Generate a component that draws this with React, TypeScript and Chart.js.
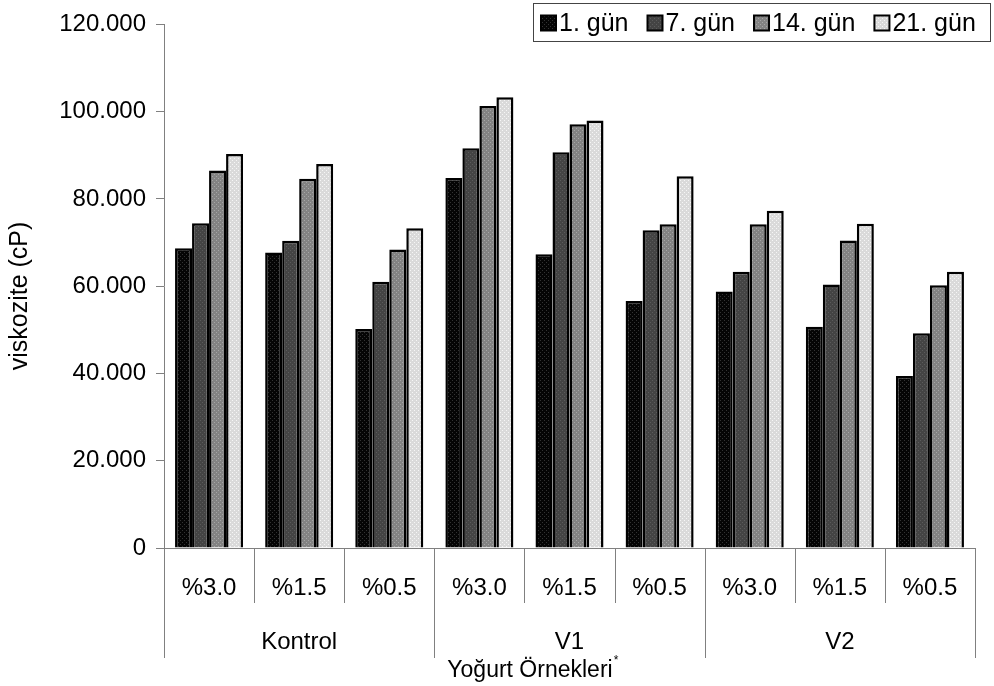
import React, { useEffect, useRef } from "react";
import { Chart, registerables } from "chart.js";

Chart.register(...registerables);

const categories = ["%3.0", "%1.5", "%0.5", "%3.0", "%1.5", "%0.5", "%3.0", "%1.5", "%0.5"];
const groups = ["Kontrol", "V1", "V2"];
const seriesLabels = ["1. gün", "7. gün", "14. gün", "21. gün"];
const gun1 = [68700, 67700, 50200, 84800, 67300, 56600, 58800, 50700, 39400];
const gun7 = [74400, 70400, 61000, 91600, 90700, 72800, 63300, 60400, 49200];
const gun14 = [86500, 84600, 68400, 101300, 97100, 74200, 74200, 70500, 60200];
const gun21 = [90300, 88000, 73300, 103300, 98000, 85200, 77300, 74300, 63300];
const yTickValues = [0, 20000, 40000, 60000, 80000, 100000, 120000];
const yTickLabels = ["0", "20.000", "40.000", "60.000", "80.000", "100.000", "120.000"];
const yTitle = "viskozite (cP)";
const xTitle = "Yoğurt Örnekleri";

const FONT = '"Liberation Sans", Arial, sans-serif';

function makePattern(base: string, dot: string) {
  const c = document.createElement("canvas");
  c.width = 4;
  c.height = 4;
  const g = c.getContext("2d")!;
  g.fillStyle = base;
  g.fillRect(0, 0, 4, 4);
  g.fillStyle = dot;
  g.fillRect(0, 0, 1, 1);
  g.fillRect(2, 2, 1, 1);
  const ctx = document.createElement("canvas").getContext("2d")!;
  return ctx.createPattern(c, "repeat")!;
}

export default function App() {
  const ref = useRef<HTMLCanvasElement | null>(null);
  useEffect(() => {
    document.body.style.margin = "0";
    const canvas = ref.current!;
    const fills = [
      makePattern("#050505", "#333333"),
      makePattern("#444444", "#5c5c5c"),
      makePattern("#838383", "#a6a6a6"),
      makePattern("#dadada", "#f6f6f6"),
    ];
    const seriesData = [gun1, gun7, gun14, gun21];

    const overlay = {
      id: "overlay",
      afterDraw(chart: any) {
        const ctx = chart.ctx as CanvasRenderingContext2D;
        const xs = chart.scales.x;
        const area = chart.chartArea;
        const n = categories.length;
        const step = (xs.right - xs.left) / n;
        ctx.save();
        // separators
        ctx.strokeStyle = "#808080";
        ctx.lineWidth = 1;
        for (let i = 0; i <= n; i++) {
          const x = Math.round(xs.left + i * step) + 0.5;
          const len = i % 3 === 0 ? 110 : 55;
          ctx.beginPath();
          ctx.moveTo(x, area.bottom);
          ctx.lineTo(x, area.bottom + len);
          ctx.stroke();
        }
        // category labels
        ctx.fillStyle = "#000";
        ctx.textAlign = "center";
        ctx.textBaseline = "alphabetic";
        ctx.font = `24px ${FONT}`;
        for (let i = 0; i < n; i++) {
          ctx.fillText(categories[i], xs.getPixelForValue(i), area.bottom + 47);
        }
        for (let g = 0; g < groups.length; g++) {
          const cx = (xs.getPixelForValue(g * 3) + xs.getPixelForValue(g * 3 + 2)) / 2;
          ctx.fillText(groups[g], cx, area.bottom + 101);
        }
        // x title
        ctx.font = `23px ${FONT}`;
        const tw = ctx.measureText(xTitle).width;
        const tx = 530;
        ctx.fillText(xTitle, tx, area.bottom + 129);
        ctx.font = `12px ${FONT}`;
        ctx.textAlign = "left";
        ctx.fillText("*", tx + tw / 2 + 1, area.bottom + 116);
        // y title
        ctx.save();
        ctx.translate(27, 296);
        ctx.rotate(-Math.PI / 2);
        ctx.textAlign = "center";
        ctx.font = `25px ${FONT}`;
        ctx.fillText(yTitle, 0, 0);
        ctx.restore();
        // legend
        const lx = 533, ly = 3, lw = 457, lh = 38;
        ctx.fillStyle = "#fff";
        ctx.fillRect(lx, ly, lw, lh);
        ctx.strokeStyle = "#444";
        ctx.lineWidth = 1;
        ctx.strokeRect(lx + 0.5, ly + 0.5, lw, lh);
        ctx.font = `25px ${FONT}`;
        ctx.textAlign = "left";
        ctx.textBaseline = "middle";
        let x = lx + 8;
        const cy = ly + lh / 2 + 1;
        for (let i = 0; i < seriesLabels.length; i++) {
          ctx.fillStyle = fills[i] as any;
          ctx.fillRect(x, cy - 7.5, 15, 15);
          ctx.strokeStyle = "#000";
          ctx.lineWidth = 2;
          ctx.strokeRect(x, cy - 7.5, 15, 15);
          ctx.fillStyle = "#000";
          ctx.fillText(seriesLabels[i], x + 18, cy + 1);
          x += 18 + ctx.measureText(seriesLabels[i]).width + 19;
        }
        ctx.restore();
      },
    };

    const chart = new Chart(canvas, {
      type: "bar",
      data: {
        labels: categories,
        datasets: seriesLabels.map((label, i) => ({
          label,
          data: seriesData[i],
          backgroundColor: fills[i] as any,
          borderColor: "#000",
          borderWidth: 2.5,
          barPercentage: 1,
          categoryPercentage: 0.755,
        })),
      },
      options: {
        responsive: false,
        animation: false,
        layout: { padding: { top: 20, right: 19, left: 0, bottom: 0 } },
        plugins: { legend: { display: false }, tooltip: { enabled: false } },
        scales: {
          x: {
            ticks: { display: false },
            grid: { display: false },
            border: { display: true, color: "#808080", width: 1 },
            afterFit: (s: any) => {
              s.height = 138;
            },
          },
          y: {
            min: 0,
            max: 120000,
            afterBuildTicks: (s: any) => {
              s.ticks = yTickValues.map((v) => ({ value: v }));
            },
            ticks: {
              color: "#000",
              font: { family: FONT, size: 24 },
              padding: 10,
              callback: (v: any) => {
                const idx = yTickValues.indexOf(Number(v));
                return idx >= 0 ? yTickLabels[idx] : "";
              },
            },
            grid: {
              display: true,
              drawOnChartArea: false,
              drawTicks: true,
              tickLength: 8,
              color: "#808080",
            },
            border: { display: true, color: "#808080", width: 1 },
            afterFit: (s: any) => {
              s.width = 164;
            },
          },
        },
      },
      plugins: [overlay],
    });
    return () => chart.destroy();
  }, []);
  return (
    <div style={{ width: 994, height: 686 }}>
      <canvas ref={ref} width={994} height={686} style={{ display: "block" }} />
    </div>
  );
}
